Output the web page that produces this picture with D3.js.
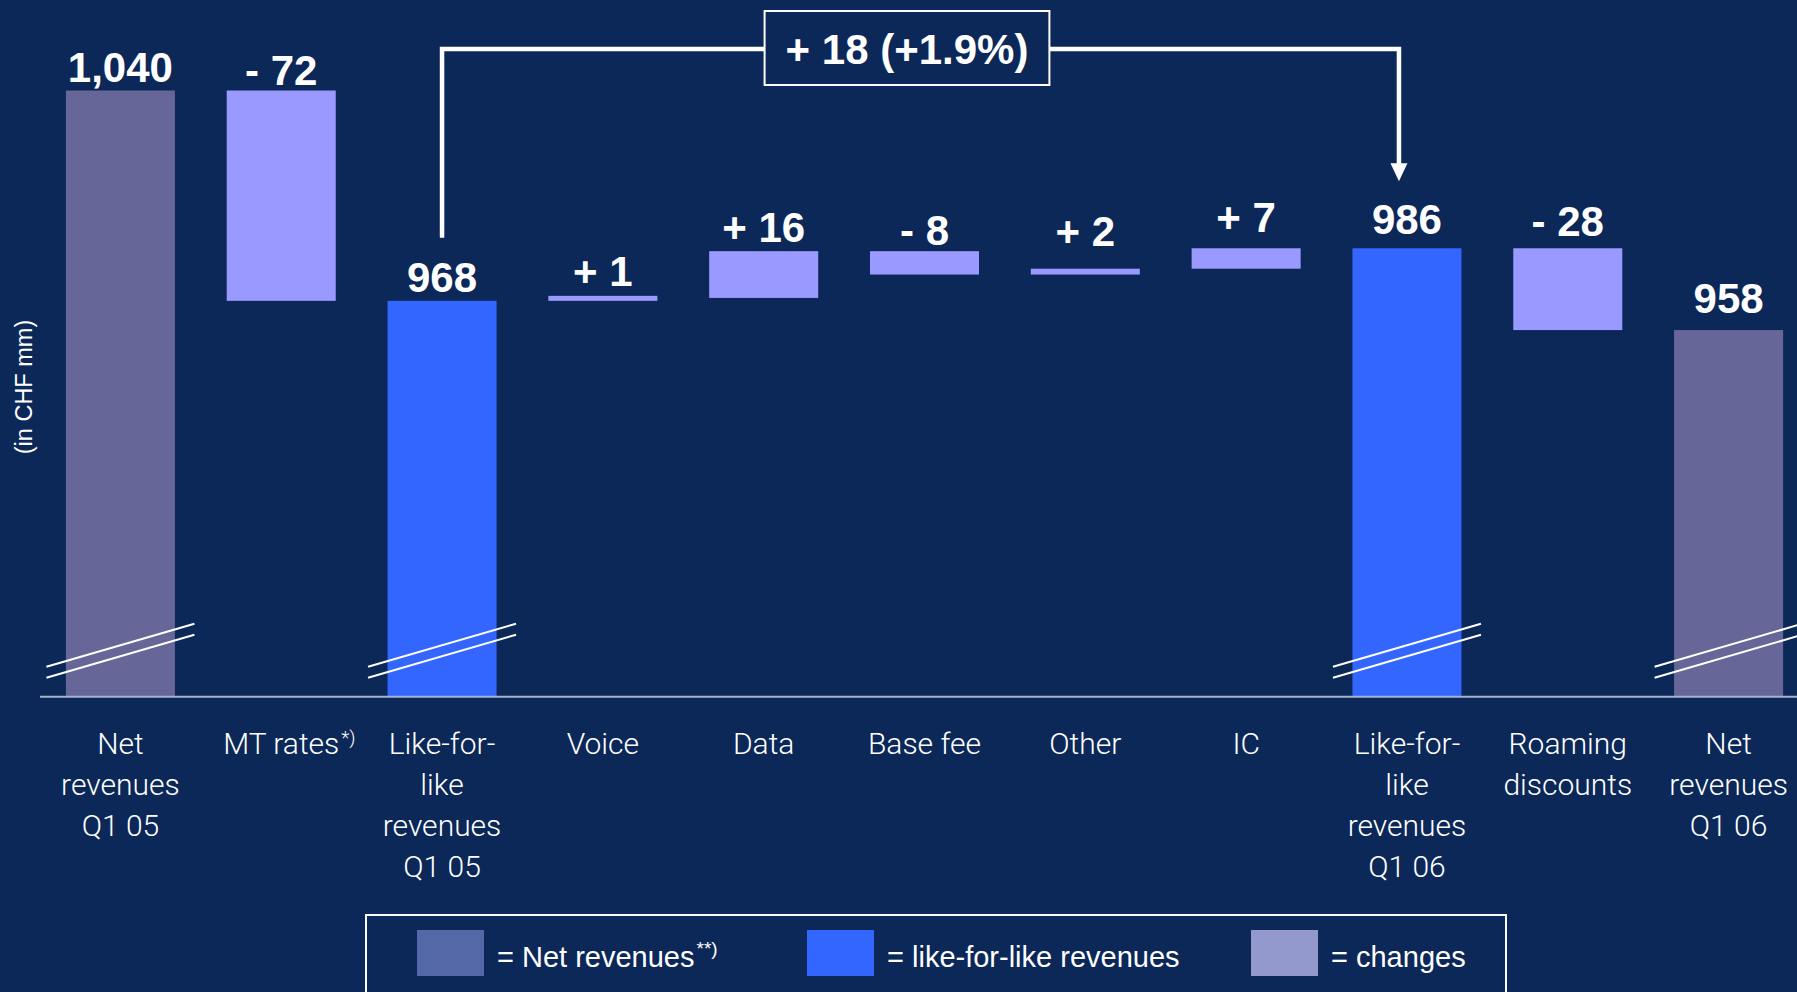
<!DOCTYPE html>
<html>
<head>
<meta charset="utf-8">
<script src="https://cdn.jsdelivr.net/npm/d3@7"></script>
<style>
  html, body { margin: 0; padding: 0; background: #0B2859; overflow: hidden; }
  svg { display: block; }
</style>
</head>
<body>
<svg id="chart" width="1797" height="992"></svg>
<script>
// ---- data ----
const categories = [
  "Net revenues Q1 05", "MT rates", "Like-for-like revenues Q1 05", "Voice", "Data",
  "Base fee", "Other", "IC", "Like-for-like revenues Q1 06", "Roaming discounts", "Net revenues Q1 06"
];
const categoryLines = [
  ["Net", "revenues", "Q1 05"],
  ["MT rates"],
  ["Like-for-", "like", "revenues", "Q1 05"],
  ["Voice"],
  ["Data"],
  ["Base fee"],
  ["Other"],
  ["IC"],
  ["Like-for-", "like", "revenues", "Q1 06"],
  ["Roaming", "discounts"],
  ["Net", "revenues", "Q1 06"]
];
const categoryNotes = ["", "*)", "", "", "", "", "", "", "", "", ""];
const barKinds = ["net", "change", "lfl", "change", "change", "change", "change", "change", "lfl", "change", "net"];
const values = [1040, -72, 968, 1, 16, -8, 2, 7, 986, -28, 958];
const valueLabels = ["1,040", "- 72", "968", "+ 1", "+ 16", "- 8", "+ 2", "+ 7", "986", "- 28", "958"];
const bracketLabel = "+ 18 (+1.9%)";
const legendLabels = ["= Net revenues", "= like-for-like revenues", "= changes"];
const legendNotes = ["**)", "", ""];
const legendKinds = ["net", "lfl", "change"];
const yAxisTitle = "(in CHF mm)";

// ---- styling ----
const BG = "#0B2859";
const barColor = { net: "#666699", lfl: "#3366FF", change: "#9999FF" };
const swatchColor = { net: "#5468A8", lfl: "#3366FF", change: "#9399CC" };
const labelGap = [9, 6, 9, 12, 9, 6, 23, 16, 14, 12, 17];

const svg = d3.select("#chart");
svg.append("rect").attr("width", 1797).attr("height", 992).attr("fill", BG);

// ---- scales ----
const x = d3.scaleBand()
  .domain(categories)
  .range([40, 1809])
  .paddingInner(0.322)
  .paddingOuter(0.161);

// broken value axis: the visible part starts well above zero
const y = d3.scaleLinear().domain([832.5, 1040]).range([696.7, 90.5]);
const yFloor = y.domain()[0];

// ---- waterfall geometry ----
let running = 0;
const bars = values.map((v, i) => {
  let lo, hi;
  if (barKinds[i] === "change") {
    lo = Math.min(running, running + v);
    hi = Math.max(running, running + v);
    running += v;
  } else {
    lo = yFloor;
    hi = v;
    running = v;
  }
  return { cat: categories[i], kind: barKinds[i], lo, hi, label: valueLabels[i], gap: labelGap[i] };
});

const g = svg.append("g");

g.selectAll("rect.bar")
  .data(bars)
  .join("rect")
  .attr("class", "bar")
  .attr("x", d => x(d.cat))
  .attr("width", x.bandwidth())
  .attr("y", d => {
    const h = y(d.lo) - y(d.hi);
    return h < 5 ? y(d.lo) - 5 : y(d.hi);
  })
  .attr("height", d => Math.max(5, y(d.lo) - y(d.hi)))
  .attr("fill", d => barColor[d.kind]);

// baseline
g.append("line")
  .attr("x1", 40).attr("x2", 1797)
  .attr("y1", y(yFloor)).attr("y2", y(yFloor))
  .attr("stroke", "#A4B0CC").attr("stroke-width", 2);

// axis-break marks on the total bars
const breakY = y(yFloor) - 46;
bars.filter(d => d.kind !== "change").forEach(d => {
  const cx = x(d.cat) + x.bandwidth() / 2;
  [-5.5, 5.5].forEach(off => {
    g.append("line")
      .attr("x1", cx - 74).attr("y1", breakY + 21.5 + off)
      .attr("x2", cx + 74).attr("y2", breakY - 21.5 + off)
      .attr("stroke", "#FFFFFF").attr("stroke-width", 2);
  });
});

// value labels
g.selectAll("text.val")
  .data(bars)
  .join("text")
  .attr("class", "val")
  .attr("x", d => x(d.cat) + x.bandwidth() / 2)
  .attr("y", d => y(d.hi) - d.gap)
  .attr("text-anchor", "middle")
  .attr("fill", "#FFFFFF")
  .style("font-family", "'Liberation Sans', Arial, sans-serif")
  .style("font-weight", "bold")
  .style("font-size", "42px")
  .text(d => d.label);

// category labels
const catFont = "Roboto, 'Open Sans', sans-serif";
categories.forEach((c, i) => {
  const cx = x(c) + x.bandwidth() / 2;
  const t = g.append("text")
    .attr("x", cx)
    .attr("y", 754)
    .attr("text-anchor", "middle")
    .attr("fill", "#FFFFFF")
    .style("font-family", catFont)
    .style("font-weight", 300)
    .style("font-size", "30px");
  categoryLines[i].forEach((line, k) => {
    t.append("tspan").attr("x", cx).attr("y", 754 + k * 41).text(line);
  });
  if (categoryNotes[i]) {
    const w = t.node().getComputedTextLength();
    g.append("text")
      .attr("x", cx + w / 2 + 2)
      .attr("y", 744)
      .attr("fill", "#FFFFFF")
      .style("font-family", catFont)
      .style("font-weight", 300)
      .style("font-size", "19px")
      .text(categoryNotes[i]);
  }
});

// y axis title
g.append("text")
  .attr("transform", "translate(32,387) rotate(-90)")
  .attr("text-anchor", "middle")
  .attr("fill", "#FFFFFF")
  .style("font-family", "'Liberation Sans', Arial, sans-serif")
  .style("font-size", "23.5px")
  .text(yAxisTitle);

// bracket from like-for-like Q1 05 to like-for-like Q1 06
const lflIdx = barKinds.map((k, i) => k === "lfl" ? i : -1).filter(i => i >= 0);
const xa = x(categories[lflIdx[0]]) + x.bandwidth() / 2;
const xb = x(categories[lflIdx[1]]) + x.bandwidth() / 2 - 8;
const bracketY = 49;
const startY = y(values[lflIdx[0]]) - 63;
const tipY = y(values[lflIdx[1]]) - 67;
g.append("path")
  .attr("d", `M${xa},${startY} V${bracketY} H${xb} V${tipY - 16}`)
  .attr("fill", "none")
  .attr("stroke", "#FFFFFF")
  .attr("stroke-width", 4.5)
  .attr("stroke-linejoin", "miter");
g.append("path")
  .attr("d", `M${xb - 8.5},${tipY - 18} L${xb + 8.5},${tipY - 18} L${xb},${tipY} Z`)
  .attr("fill", "#FFFFFF");

const boxCx = 907;
const bl = g.append("text")
  .attr("x", boxCx)
  .attr("y", 64)
  .attr("text-anchor", "middle")
  .attr("fill", "#FFFFFF")
  .style("font-family", "'Liberation Sans', Arial, sans-serif")
  .style("font-weight", "bold")
  .style("font-size", "42px")
  .text(bracketLabel);
const blw = bl.node().getComputedTextLength();
g.insert("rect", () => bl.node())
  .attr("x", boxCx - blw / 2 - 21)
  .attr("y", 11)
  .attr("width", blw + 42)
  .attr("height", 74)
  .attr("fill", BG)
  .attr("stroke", "#FFFFFF")
  .attr("stroke-width", 2);

// legend
g.append("rect")
  .attr("x", 366).attr("y", 915)
  .attr("width", 1140).attr("height", 100)
  .attr("fill", "none")
  .attr("stroke", "#FFFFFF")
  .attr("stroke-width", 2);
const legendX = [417, 807, 1251];
legendKinds.forEach((k, i) => {
  g.append("rect")
    .attr("x", legendX[i]).attr("y", 930)
    .attr("width", 67).attr("height", 46)
    .attr("fill", swatchColor[k]);
  const t = g.append("text")
    .attr("x", legendX[i] + 80)
    .attr("y", 967)
    .attr("fill", "#FFFFFF")
    .style("font-family", "'Liberation Sans', Arial, sans-serif")
    .style("font-size", "29px")
    .text(legendLabels[i]);
  if (legendNotes[i]) {
    const w = t.node().getComputedTextLength();
    g.append("text")
      .attr("x", legendX[i] + 80 + w + 2)
      .attr("y", 955)
      .attr("fill", "#FFFFFF")
      .style("font-family", "'Liberation Sans', Arial, sans-serif")
      .style("font-size", "19px")
      .text(legendNotes[i]);
  }
});
</script>
</body>
</html>
